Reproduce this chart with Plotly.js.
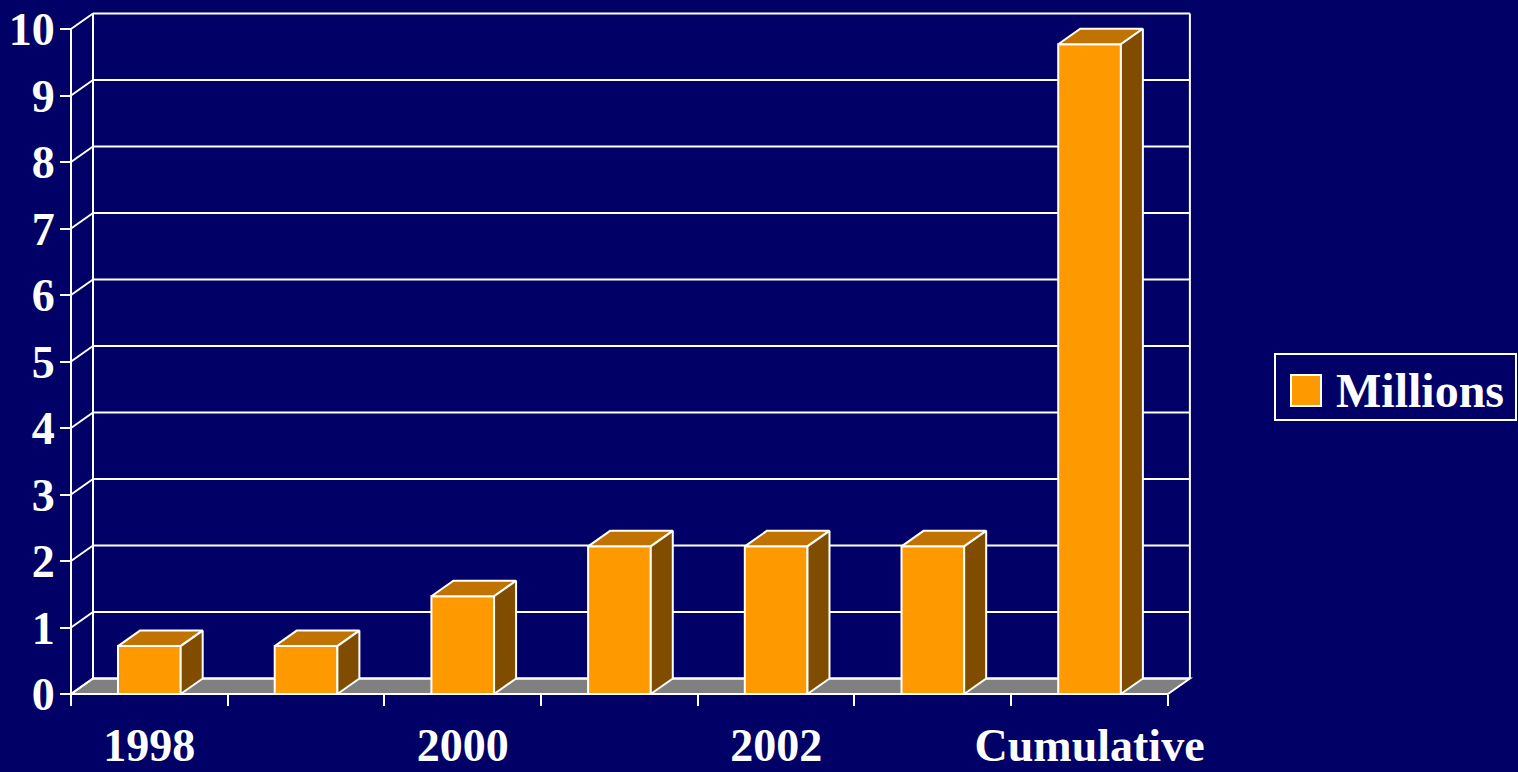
<!DOCTYPE html>
<html><head><meta charset="utf-8">
<script src="https://cdn.plot.ly/plotly-3.0.1.min.js"></script>
<style>html,body{margin:0;padding:0;background:#000066;} #chart{width:1518px;height:772px;}</style>
</head><body><div id="chart"></div>
<script>
// ---- data ----
const categories = ['1998', '1999', '2000', '2001', '2002', '2003', 'Cumulative'];
const millions = [0.72, 0.72, 1.47, 2.22, 2.22, 2.22, 9.77];
const shownLabels = ['1998', '2000', '2002', 'Cumulative'];
const yTicks = [0, 1, 2, 3, 4, 5, 6, 7, 8, 9, 10];
const seriesName = 'Millions';

// ---- geometry / style ----
const W = 1518, H = 772;
const X0 = 71, Y0 = 694, UX = 156.7, UY = 66.5;
const DX = 22 / UX, DY = 15.5 / UY;
const BW = 0.4;
const n = categories.length;
const xs = categories.map((c, i) => i);
const yMax = yTicks[yTicks.length - 1];
const xRange = [-0.56, n - 0.5 + DX + 0.06];
const yRange = [-0.06, yMax + DY + 0.06];
const xDom = [(X0 + (xRange[0] + 0.5) * UX) / W, (X0 + (xRange[1] + 0.5) * UX) / W];
const yDom = [(H - (Y0 - yRange[0] * UY)) / H, (H - (Y0 - yRange[1] * UY)) / H];

const BG = '#000066', FRONT = '#FF9900', TOP = '#C07300', SIDE = '#804D00', FLOOR = '#808080';
const FONT = {family: 'Liberation Serif, Times New Roman, serif', size: 46, color: 'white', weight: 'bold'};
const LEGFONT = Object.assign({}, FONT, {size: 48});

// ---- frame shapes (walls, floor, gridlines) ----
const L = -0.5, R = n - 0.5;
const shapes = [];
const line = {color: 'white', width: 2};
shapes.push({type: 'path', xref: 'x', yref: 'y', layer: 'below',
  path: `M ${L},0 L ${R},0 L ${R + DX},${DY} L ${L + DX},${DY} Z`, fillcolor: FLOOR, line: line});
yTicks.forEach(k => {
  shapes.push({type: 'line', xref: 'x', yref: 'y', layer: 'below', x0: L + DX, y0: k + DY, x1: R + DX, y1: k + DY, line: line});
  shapes.push({type: 'line', xref: 'x', yref: 'y', layer: 'below', x0: L, y0: k, x1: L + DX, y1: k + DY, line: line});
});
shapes.push({type: 'line', xref: 'x', yref: 'y', layer: 'below', x0: L, y0: 0, x1: L, y1: yMax, line: line});
shapes.push({type: 'line', xref: 'x', yref: 'y', layer: 'below', x0: L + DX, y0: DY, x1: L + DX, y1: yMax + DY, line: line});
shapes.push({type: 'line', xref: 'x', yref: 'y', layer: 'below', x0: R + DX, y0: DY, x1: R + DX, y1: yMax + DY, line: line});

// legend box (custom)
shapes.push({type: 'rect', xref: 'paper', yref: 'paper', x0: 1275 / W, x1: 1516 / W, y0: (H - 420) / H, y1: (H - 354) / H, line: line, fillcolor: 'rgba(0,0,0,0)'});
shapes.push({type: 'rect', xref: 'paper', yref: 'paper', x0: 1291 / W, x1: 1321 / W, y0: (H - 406) / H, y1: (H - 375) / H, line: line, fillcolor: FRONT});

// ---- bar faces ----
const topX = [], topY = [], sideX = [], sideY = [];
xs.forEach((x, i) => {
  const v = millions[i], a = x - BW / 2, b = x + BW / 2;
  topX.push(a, b, b + DX, a + DX, a, null);
  topY.push(v, v, v + DY, v + DY, v, null);
  sideX.push(b, b + DX, b + DX, b, b, null);
  sideY.push(0, DY, v + DY, v, 0, null);
});

const traces = [
  {type: 'bar', x: xs, y: millions, width: BW, name: seriesName,
   marker: {color: FRONT, line: {color: 'white', width: 2}}, hoverinfo: 'y'},
  {type: 'scatter', mode: 'lines', x: topX, y: topY, fill: 'toself', fillcolor: TOP,
   line: {color: 'white', width: 2}, hoverinfo: 'skip', showlegend: false},
  {type: 'scatter', mode: 'lines', x: sideX, y: sideY, fill: 'toself', fillcolor: SIDE,
   line: {color: 'white', width: 2}, hoverinfo: 'skip', showlegend: false}
];

const boundaries = [];
for (let i = 0; i <= n; i++) boundaries.push(i - 0.5);

const layout = {
  width: W, height: H,
  paper_bgcolor: BG, plot_bgcolor: 'rgba(0,0,0,0)',
  margin: {l: 0, r: 0, t: 0, b: 0},
  showlegend: false,
  xaxis: {domain: xDom, range: xRange, anchor: 'free', position: (H - Y0) / H,
    tickmode: 'array', tickvals: shownLabels.map(s => categories.indexOf(s)), ticktext: shownLabels,
    ticks: '', showgrid: false, zeroline: false, showline: false, tickfont: FONT, ticklabelstandoff: 20,
    minor: {tickmode: 'array', tickvals: boundaries, ticks: 'outside', ticklen: 11, tickwidth: 2, tickcolor: 'white', showgrid: false},
    fixedrange: true},
  yaxis: {domain: yDom, range: yRange, anchor: 'free', position: X0 / W,
    tickmode: 'array', tickvals: yTicks, ticks: 'outside', ticklen: 11, tickwidth: 2, tickcolor: 'white',
    ticklabelstandoff: -4,
    showgrid: false, zeroline: false, showline: false, tickfont: FONT, fixedrange: true},
  shapes: shapes,
  annotations: [{xref: 'paper', yref: 'paper', x: 1334 / W, y: (H - 390.5) / H, xanchor: 'left', yanchor: 'middle',
    text: seriesName, showarrow: false, font: LEGFONT}],
  bargap: 0
};

Plotly.newPlot('chart', traces, layout, {displayModeBar: false, staticPlot: true});
</script>
</body></html>
